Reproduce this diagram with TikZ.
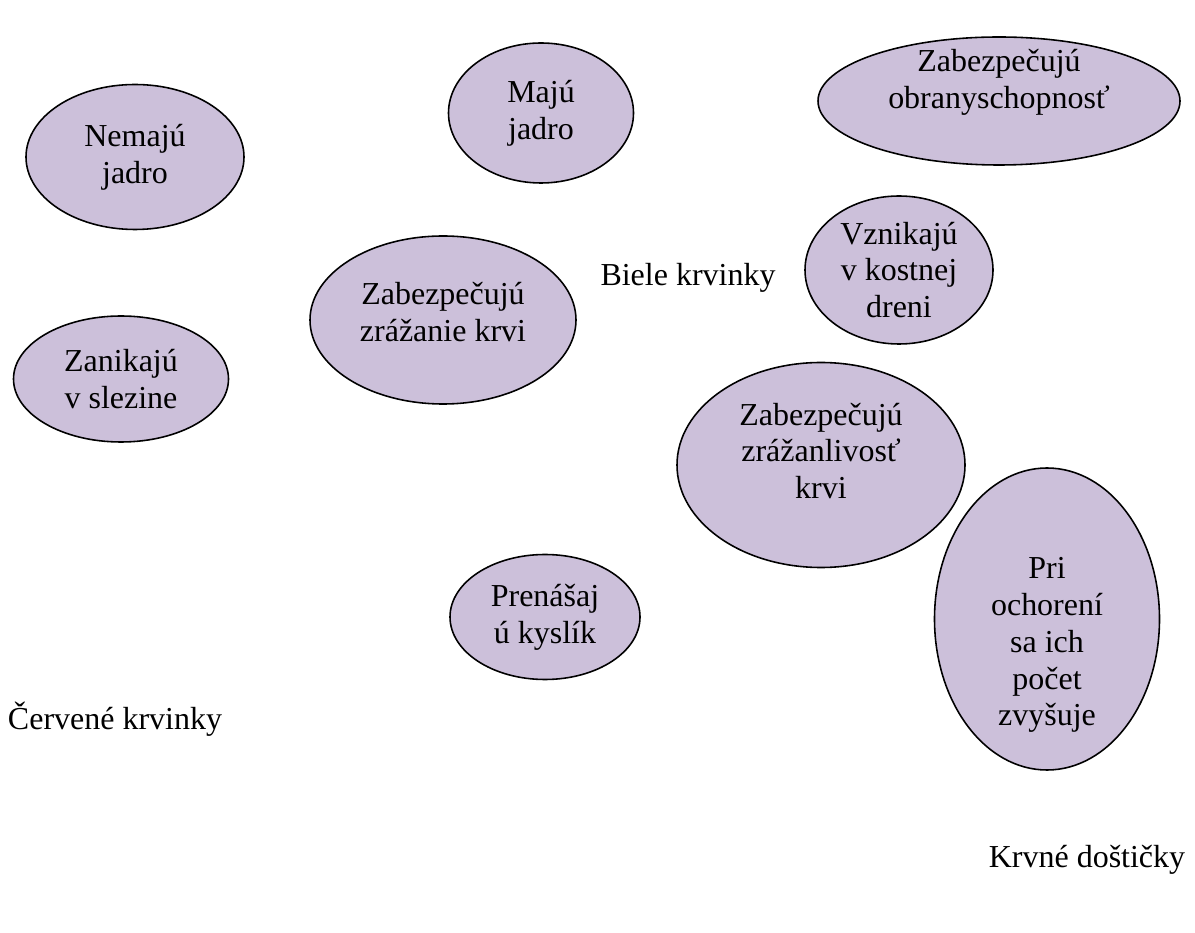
\documentclass[tikz,border=0pt]{standalone}
\usepackage{fontspec}
\setmainfont{Liberation Serif}
\usepackage{tikz}
\usetikzlibrary{shapes}

\definecolor{lila}{RGB}{204,192,218}

\begin{document}
\begin{tikzpicture}
	\tikzstyle{bulle}=[ellipse,draw=black,line width=0.9pt,fill=lila,
	inner sep=0pt,align=center,font=\fontsize{18.2}{21}\selectfont]
	\tikzstyle{texte}=[align=center,inner sep=0pt,
	font=\fontsize{18.2}{21}\selectfont]

	\useasboundingbox (0,0) rectangle (23.9,-18.66);

	\node[bulle,minimum width=4.36cm,minimum height=2.9cm] (nemaju) at
	(2.7,-3.14) {Nemajú\\jadro};
	\node[bulle,minimum width=3.7cm,minimum height=2.8cm] (maju) at
	(10.82,-2.26) {Majú\\jadro};
	\node[bulle,minimum width=7.24cm,minimum height=2.56cm] (obrana) at
	(19.98,-2.02) {};
	\node[texte] (obranaT) at (19.98,-1.64) {Zabezpečujú\\obranyschopnosť};
	\node[bulle,minimum width=3.76cm,minimum height=2.96cm] (vznikaju) at
	(17.98,-5.4) {Vznikajú\\v kostnej\\dreni};
	\node[bulle,minimum width=5.32cm,minimum height=3.36cm] (zrazanie) at
	(8.86,-6.4) {};
	\node[texte] (zrazanieT) at (8.86,-6.24) {Zabezpečujú\\zrážanie krvi};
	\node[bulle,minimum width=4.3cm,minimum height=2.52cm] (zanikaju) at
	(2.42,-7.58) {Zanikajú\\v slezine};
	\node[bulle,minimum width=5.76cm,minimum height=4.1cm] (zrazlivost) at
	(16.42,-9.3) {};
	\node[texte] (zrazlivostT) at (16.42,-9.02)
	{Zabezpečujú\\zrážanlivosť\\krvi};
	\node[bulle,minimum width=3.8cm,minimum height=2.5cm] (prenasaj) at
	(10.9,-12.34) {Prenášaj\\ú kyslík};
	\node[bulle,minimum width=4.5cm,minimum height=6.04cm] (pri) at
	(20.94,-12.38) {};
	\node[texte] (priT) at (20.94,-12.9)
	{Pri\\ochorení\\sa ich\\počet\\zvyšuje};

	\node[texte] (biele) at (13.76,-5.56) {Biele krvinky};
	\node[texte] (cervene) at (2.3,-14.38) {Červené krvinky};
	\node[texte] (dosticky) at (21.74,-17.2) {Krvné doštičky};
\end{tikzpicture}
\end{document}
